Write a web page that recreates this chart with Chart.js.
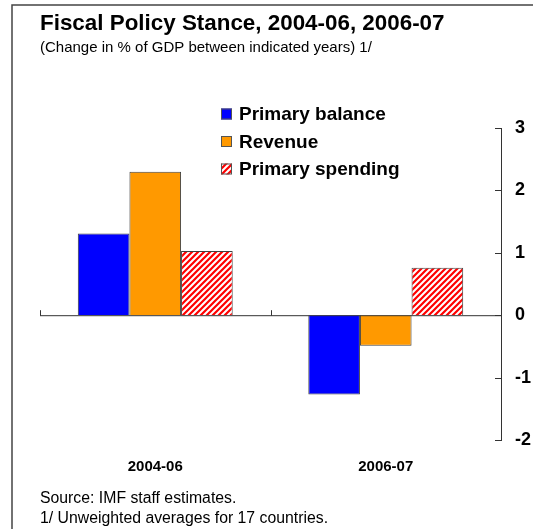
<!DOCTYPE html>
<html>
<head>
<meta charset="utf-8">
<script src="https://cdn.jsdelivr.net/npm/chart.js@4.4.1/dist/chart.umd.min.js"></script>
<style>
  html, body { margin: 0; padding: 0; background: #ffffff; overflow: hidden; }
  #wrap { width: 533px; height: 529px; position: relative; overflow: hidden; }
  canvas { display: block; }
</style>
</head>
<body>
<div id="wrap"><canvas id="chart" width="533" height="529"></canvas></div>
<script>
// Periods compared
const categories = ['2004-06', '2006-07'];

// Change in % of GDP between indicated years
const primaryBalance = [1.31, -1.27];
const revenue = [2.30, -0.49];
const primarySpending = [1.03, 0.76];

// Right-hand axis ticks
const yTicks = [-2, -1, 0, 1, 2, 3];

const titleText = 'Fiscal Policy Stance, 2004-06, 2006-07';
const subtitleText = '(Change in % of GDP between indicated years) 1/';
const footerLines = ['Source: IMF staff estimates.', '1/ Unweighted averages for 17 countries.'];

const FONT = '"Liberation Sans", Arial, Helvetica, sans-serif';

// Red diagonal hatching for the spending bars
function makeHatch() {
  const s = 6;
  const c = document.createElement('canvas');
  c.width = s; c.height = s;
  const g = c.getContext('2d');
  g.fillStyle = '#ffffff';
  g.fillRect(0, 0, s, s);
  g.strokeStyle = '#ff0000';
  g.lineWidth = 2.2;
  g.beginPath();
  g.moveTo(-s / 2, s / 2); g.lineTo(s / 2, -s / 2);
  g.moveTo(0, s); g.lineTo(s, 0);
  g.moveTo(s / 2, s * 1.5); g.lineTo(s * 1.5, s / 2);
  g.stroke();
  return document.getElementById('chart').getContext('2d').createPattern(c, 'repeat');
}
const hatch = makeHatch();

const decorations = {
  id: 'decorations',
  afterDraw(chart) {
    const ctx = chart.ctx;
    const area = chart.chartArea;
    const ys = chart.scales.y;
    ctx.save();

    // frame on top and left
    ctx.strokeStyle = '#444444';
    ctx.lineWidth = 1.5;
    ctx.beginPath();
    ctx.moveTo(12, 540);
    ctx.lineTo(12, 5);
    ctx.lineTo(540, 5);
    ctx.stroke();

    // title and subtitle
    ctx.fillStyle = '#000000';
    ctx.textAlign = 'left';
    ctx.textBaseline = 'alphabetic';
    ctx.font = 'bold 22.4px ' + FONT;
    ctx.fillText(titleText, 40, 30);
    ctx.font = '15px ' + FONT;
    ctx.fillText(subtitleText, 40, 52);

    // zero line with category separators
    const y0 = ys.getPixelForValue(0);
    ctx.strokeStyle = '#333333';
    ctx.lineWidth = 1;
    ctx.beginPath();
    ctx.moveTo(area.left, y0 + 0.5);
    ctx.lineTo(area.right, y0 + 0.5);
    const n = categories.length;
    for (let i = 0; i < n; i++) {
      const x = Math.round(area.left + i * (area.right - area.left) / n) + 0.5;
      ctx.moveTo(x, y0 + 0.5);
      ctx.lineTo(x, y0 - 5);
    }
    // inward tick marks on the value axis
    yTicks.forEach(v => {
      const y = Math.round(ys.getPixelForValue(v)) + 0.5;
      ctx.moveTo(area.right, y);
      ctx.lineTo(area.right - 6, y);
    });
    ctx.stroke();

    // legend
    const legendY = [114, 141.5, 169];
    ctx.font = 'bold 19px ' + FONT;
    ctx.textBaseline = 'middle';
    chart.data.datasets.forEach((ds, i) => {
      const cy = legendY[i];
      ctx.fillStyle = ds.backgroundColor;
      ctx.fillRect(221, cy - 5.5, 11, 11);
      ctx.strokeStyle = '#555555';
      ctx.lineWidth = 1;
      ctx.strokeRect(221.5, cy - 5, 10, 10);
      ctx.fillStyle = '#000000';
      ctx.fillText(ds.label, 239, cy + 1);
    });

    // footnotes
    ctx.textBaseline = 'alphabetic';
    ctx.font = '15.8px ' + FONT;
    ctx.fillText(footerLines[0], 40, 503);
    ctx.fillText(footerLines[1], 40, 523);

    ctx.restore();
  }
};

new Chart(document.getElementById('chart'), {
  type: 'bar',
  data: {
    labels: categories,
    datasets: [
      { label: 'Primary balance', data: primaryBalance, backgroundColor: '#0000ff' },
      { label: 'Revenue', data: revenue, backgroundColor: '#ff9900' },
      { label: 'Primary spending', data: primarySpending, backgroundColor: hatch }
    ]
  },
  options: {
    responsive: false,
    animation: false,
    devicePixelRatio: 1,
    layout: { padding: { left: 40, top: 128, right: 0, bottom: 0 } },
    datasets: {
      bar: {
        categoryPercentage: 0.672,
        barPercentage: 1.0,
        borderWidth: 1,
        borderColor: '#404040'
      }
    },
    plugins: {
      legend: { display: false },
      title: { display: false },
      tooltip: { enabled: false }
    },
    scales: {
      x: {
        grid: { display: false, drawTicks: false },
        border: { display: false },
        ticks: {
          color: '#000000',
          font: { family: FONT, size: 15, weight: 'bold' },
          padding: 18
        },
        afterFit(scale) { scale.height = 89; }
      },
      y: {
        position: 'right',
        min: -2,
        max: 3,
        afterBuildTicks(scale) { scale.ticks = yTicks.map(v => ({ value: v })); },
        grid: { display: false, drawTicks: false },
        border: { display: true, color: '#333333', width: 1 },
        ticks: {
          color: '#000000',
          font: { family: FONT, size: 18, weight: 'bold' },
          padding: 14
        },
        afterFit(scale) { scale.width = 32; }
      }
    }
  },
  plugins: [decorations]
});
</script>
</body>
</html>
